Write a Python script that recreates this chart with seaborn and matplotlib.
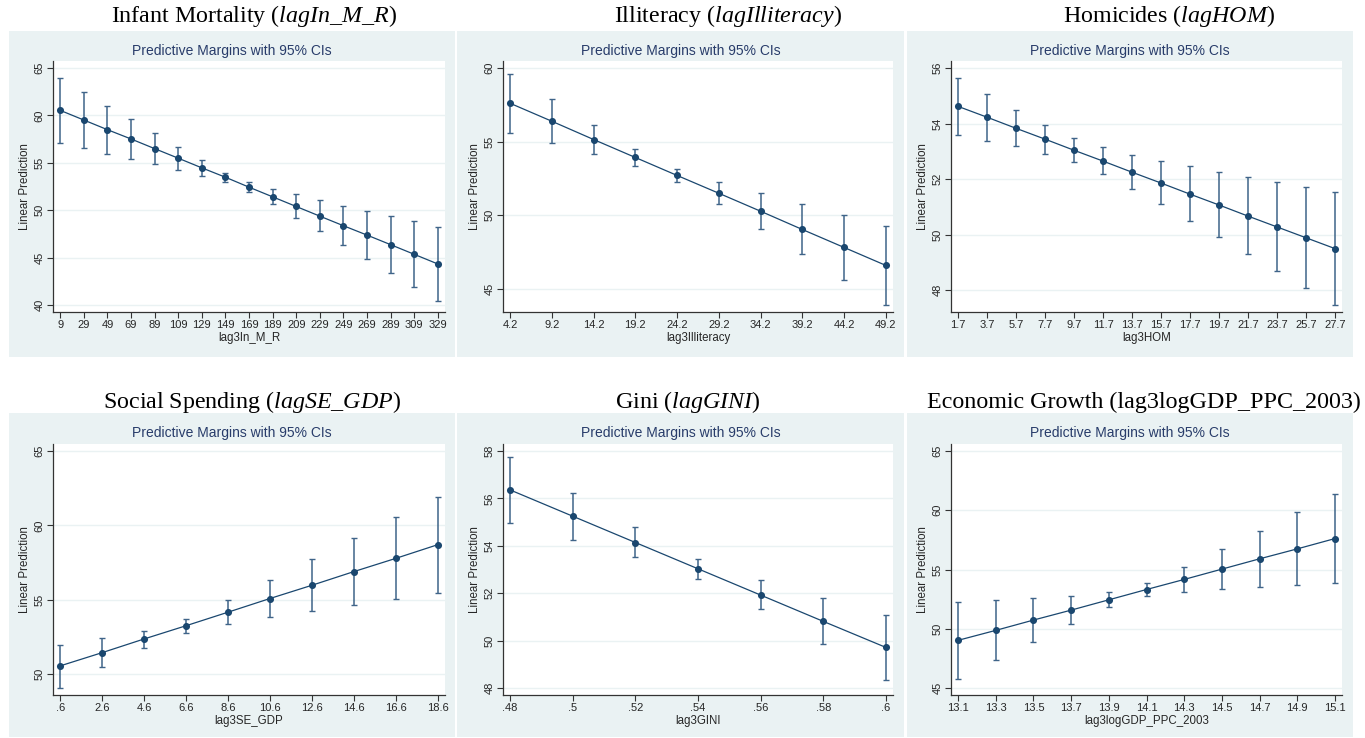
import numpy as np
import pandas as pd
import matplotlib
matplotlib.use("Agg")
import matplotlib.pyplot as plt
import seaborn as sns
from matplotlib.patches import Rectangle

# ---------------- data ----------------
im_x = [9, 29, 49, 69, 89, 109, 129, 149, 169, 189, 209, 229, 249, 269, 289, 309, 329]
im_mean = [60.54, 59.52, 58.50, 57.52, 56.50, 55.49, 54.47, 53.48, 52.43, 51.41, 50.39, 49.37, 48.36, 47.37, 46.36, 45.34, 44.32]
im_lo = [57.13, 56.57, 55.98, 55.45, 54.85, 54.29, 53.66, 52.96, 51.90, 50.60, 49.16, 47.76, 46.29, 44.81, 43.37, 41.90, 40.46]
im_hi = [63.98, 62.51, 61.03, 59.59, 58.15, 56.71, 55.27, 53.97, 52.96, 52.25, 51.66, 51.03, 50.46, 49.94, 49.34, 48.81, 48.25]
im_xticklabels = ["9", "29", "49", "69", "89", "109", "129", "149", "169", "189", "209", "229", "249", "269", "289", "309", "329"]
im_yticks = [40, 45, 50, 55, 60, 65]

il_x = [4.2, 9.2, 14.2, 19.2, 24.2, 29.2, 34.2, 39.2, 44.2, 49.2]
il_mean = [57.61, 56.39, 55.15, 53.93, 52.71, 51.50, 50.28, 49.04, 47.82, 46.60]
il_lo = [55.62, 54.90, 54.16, 53.32, 52.26, 50.75, 49.06, 47.37, 45.63, 43.92]
il_hi = [59.62, 57.88, 56.17, 54.54, 53.17, 52.24, 51.50, 50.75, 50.01, 49.29]
il_xticklabels = ["4.2", "9.2", "14.2", "19.2", "24.2", "29.2", "34.2", "39.2", "44.2", "49.2"]
il_yticks = [45, 50, 55, 60]

hom_x = [1.7, 3.7, 5.7, 7.7, 9.7, 11.7, 13.7, 15.7, 17.7, 19.7, 21.7, 23.7, 25.7, 27.7]
hom_mean = [54.62, 54.23, 53.83, 53.44, 53.04, 52.65, 52.25, 51.86, 51.46, 51.07, 50.67, 50.28, 49.89, 49.50]
hom_lo = [53.58, 53.39, 53.19, 52.92, 52.60, 52.18, 51.65, 51.09, 50.50, 49.90, 49.29, 48.68, 48.08, 47.47]
hom_hi = [55.66, 55.07, 54.50, 53.96, 53.50, 53.14, 52.87, 52.66, 52.46, 52.26, 52.08, 51.89, 51.72, 51.54]
hom_xticklabels = ["1.7", "3.7", "5.7", "7.7", "9.7", "11.7", "13.7", "15.7", "17.7", "19.7", "21.7", "23.7", "25.7", "27.7"]
hom_yticks = [48, 50, 52, 54, 56]

se_x = [0.6, 2.6, 4.6, 6.6, 8.6, 10.6, 12.6, 14.6, 16.6, 18.6]
se_mean = [50.56, 51.45, 52.37, 53.26, 54.17, 55.09, 55.98, 56.90, 57.79, 58.71]
se_lo = [49.08, 50.47, 51.79, 52.79, 53.37, 53.82, 54.24, 54.64, 55.04, 55.45]
se_hi = [51.99, 52.43, 52.92, 53.73, 54.98, 56.34, 57.75, 59.15, 60.58, 61.94]
se_xticklabels = [".6", "2.6", "4.6", "6.6", "8.6", "10.6", "12.6", "14.6", "16.6", "18.6"]
se_yticks = [50, 55, 60, 65]

gini_x = [0.48, 0.50, 0.52, 0.54, 0.56, 0.58, 0.60]
gini_mean = [56.36, 55.25, 54.14, 53.03, 51.92, 50.81, 49.71]
gini_lo = [54.95, 54.25, 53.52, 52.59, 51.33, 49.86, 48.35]
gini_hi = [57.75, 56.23, 54.78, 53.46, 52.54, 51.78, 51.06]
gini_xticklabels = [".48", ".5", ".52", ".54", ".56", ".58", ".6"]
gini_yticks = [48, 50, 52, 54, 56, 58]

gdp_x = [13.1, 13.3, 13.5, 13.7, 13.9, 14.1, 14.3, 14.5, 14.7, 14.9, 15.1]
gdp_mean = [49.02, 49.86, 50.73, 51.57, 52.44, 53.31, 54.16, 55.03, 55.90, 56.74, 57.61]
gdp_lo = [45.79, 47.33, 48.88, 50.39, 51.80, 52.78, 53.12, 53.34, 53.51, 53.68, 53.88]
gdp_hi = [52.25, 52.42, 52.58, 52.78, 53.09, 53.85, 55.22, 56.74, 58.29, 59.83, 61.38]
gdp_xticklabels = ["13.1", "13.3", "13.5", "13.7", "13.9", "14.1", "14.3", "14.5", "14.7", "14.9", "15.1"]
gdp_yticks = [45, 50, 55, 60, 65]

titles = [
    r"Infant Mortality ($\mathit{lagIn\_M\_R}$)",
    r"Illiteracy ($\mathit{lagIlliteracy}$)",
    r"Homicides ($\mathit{lagHOM)}$",
    r"Social Spending ($\mathit{lagSE\_GDP}$)",
    r"Gini ($\mathit{lagGINI}$)",
    "Economic Growth (lag3logGDP_PPC_2003)",
]
xlabels = ["lag3In_M_R", "lag3Illiteracy", "lag3HOM", "lag3SE_GDP", "lag3GINI", "lag3logGDP_PPC_2003"]

panels = [
    (im_x, im_mean, im_lo, im_hi, im_xticklabels, im_yticks),
    (il_x, il_mean, il_lo, il_hi, il_xticklabels, il_yticks),
    (hom_x, hom_mean, hom_lo, hom_hi, hom_xticklabels, hom_yticks),
    (se_x, se_mean, se_lo, se_hi, se_xticklabels, se_yticks),
    (gini_x, gini_mean, gini_lo, gini_hi, gini_xticklabels, gini_yticks),
    (gdp_x, gdp_mean, gdp_lo, gdp_hi, gdp_xticklabels, gdp_yticks),
]

# ---------------- style ----------------
sns.set_theme(style="white")
plt.rcParams["font.family"] = ["Liberation Sans", "DejaVu Sans"]
plt.rcParams["mathtext.fontset"] = "custom"
plt.rcParams["mathtext.rm"] = "Liberation Serif"
plt.rcParams["mathtext.it"] = "Liberation Serif:italic"

NAVY = "#1A476F"
CI_COLOR = "#3F6489"
BG = "#EAF2F3"

W, H = 1365, 738
fig = plt.figure(figsize=(W / 100, H / 100), dpi=100)

# layout in pixels (left, right) / (top, bottom)
gray_cols = [(9, 455), (457, 904), (907, 1353)]
gray_rows = [(31, 357), (413, 737)]
ax_cols = [(53, 445), (503, 893), (951, 1342)]
ax_rows = [(61, 312), (444, 695)]
title_x = [[254, 728, 1169], [252, 688, 1144]]
title_y = [16, 402]

for i, (x, mean, lo, hi, xtl, yt) in enumerate(panels):
    r, c = divmod(i, 3)
    gx0, gx1 = gray_cols[c]
    gy0, gy1 = gray_rows[r]
    bg = Rectangle((gx0 / W, 1 - gy1 / H), (gx1 - gx0) / W, (gy1 - gy0) / H,
                   transform=fig.transFigure, facecolor=BG, edgecolor="none", zorder=-5)
    fig.patches.append(bg)
    ax0, ax1 = ax_cols[c]
    ay0, ay1 = ax_rows[r]
    ax = fig.add_axes([ax0 / W, 1 - ay1 / H, (ax1 - ax0) / W, (ay1 - ay0) / H])
    ax.set_facecolor("white")
    ax.set_zorder(2)

    df = pd.DataFrame({"x": x, "margin": mean, "lo": lo, "hi": hi})
    ax.errorbar(df["x"], df["margin"], yerr=[df["margin"] - df["lo"], df["hi"] - df["margin"]],
                fmt="none", ecolor=CI_COLOR, elinewidth=1.1, capsize=2.3, capthick=1.0, zorder=2)
    sns.lineplot(data=df, x="x", y="margin", ax=ax, color=NAVY, linewidth=0.9, zorder=3)
    sns.scatterplot(data=df, x="x", y="margin", ax=ax, color=NAVY, s=26, edgecolor=NAVY,
                    linewidth=0, zorder=4)

    # axis ranges
    ymin = min(min(lo), yt[0])
    ymax = max(max(hi), yt[-1])
    ypad = (ymax - ymin) * 0.03
    ax.set_ylim(ymin - ypad, ymax + ypad)
    xpad = (x[-1] - x[0]) * 0.019
    ax.set_xlim(x[0] - xpad, x[-1] + xpad)

    ax.set_xticks(x)
    ax.set_xticklabels(xtl, fontsize=8)
    ax.set_yticks(yt)
    ax.set_yticklabels([str(v) for v in yt], fontsize=8, rotation=90, va="center")
    ax.tick_params(axis="both", direction="out", length=4, width=0.8, color="#333333", pad=2,
                   bottom=True, left=True)
    ax.grid(axis="y", color=BG, linewidth=1.0)
    ax.set_axisbelow(True)
    for s in ["top", "right"]:
        ax.spines[s].set_visible(False)
    for s in ["left", "bottom"]:
        ax.spines[s].set_color("#333333")
        ax.spines[s].set_linewidth(0.9)
    ax.set_xlabel(xlabels[i], fontsize=8.3, labelpad=1)
    ax.set_ylabel("Linear Prediction", fontsize=8.3, labelpad=3)

    # subtitle centered over gray panel
    fig.text((gx0 + gx1) / 2 / W, 1 - (gy0 + 20) / H, "Predictive Margins with 95% CIs",
             ha="center", va="center", fontsize=10, color="#283C6A")
    fig.text(title_x[r][c] / W, 1 - title_y[r] / H, titles[i], ha="center", va="center",
             fontsize=17.3, color="black", family="Liberation Serif")

fig.savefig("out.png", dpi=100, facecolor="white")
